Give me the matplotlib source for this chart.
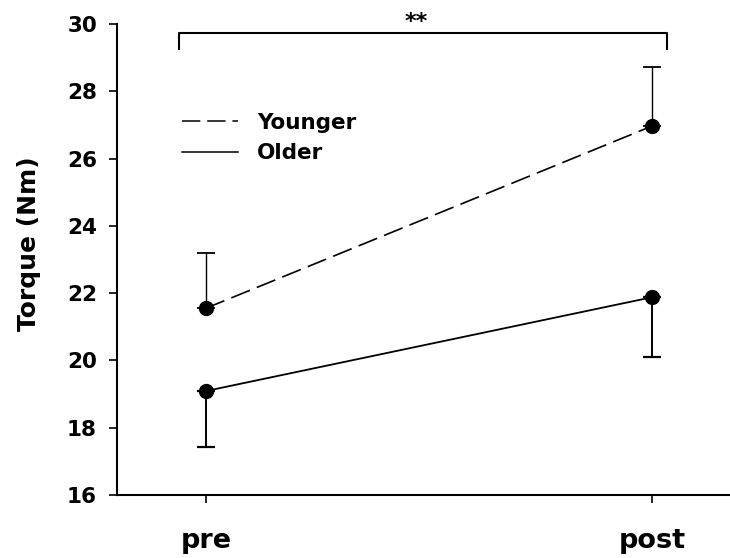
import matplotlib
matplotlib.use("Agg")
import matplotlib.pyplot as plt
from matplotlib.lines import Line2D

# Данные
phases = ["pre", "post"]
x_pos = [0, 1]
younger_mean = [21.55, 26.97]
younger_sd = [1.63, 1.76]
older_mean = [19.09, 21.88]
older_sd = [1.66, 1.79]
yticks = [16, 18, 20, 22, 24, 26, 28, 30]

plt.rcParams['font.family'] = ['DejaVu Sans']
plt.rcParams['font.weight'] = 'bold'

fig = plt.figure(figsize=(7.3, 5.58), dpi=100)
ax = fig.add_axes([0.1603, 0.1129, 0.8397, 0.8441])

dash = (0, (12, 4.5))

# Younger: SD только вверх, Older: SD только вниз
ax.errorbar(x_pos, younger_mean, yerr=[[0, 0], younger_sd], color='black',
            linestyle=dash, linewidth=1.2, marker='o', markersize=10,
            capsize=6.5, elinewidth=1.0, capthick=1.3, zorder=3)
ax.errorbar(x_pos, older_mean, yerr=[older_sd, [0, 0]], color='black',
            linestyle='-', linewidth=1.3, marker='o', markersize=10,
            capsize=6.5, elinewidth=1.4, capthick=1.6, zorder=3)

ax.set_xlim(-0.199, 1.174)
ax.set_ylim(16, 30)
ax.set_xticks(x_pos)
ax.set_xticklabels(phases, fontsize=19.5, fontweight='bold')
ax.set_yticks(yticks)
ax.set_yticklabels([str(t) for t in yticks], fontsize=15.5, fontweight='bold')
ax.tick_params(axis='y', length=6, width=1.2, pad=8.5)
ax.tick_params(axis='x', length=6, width=1.2, pad=17.5)
ax.set_ylabel("Torque (Nm)", fontsize=18, fontweight='bold')
ax.yaxis.set_label_coords(-0.124, 0.533)

ax.spines['top'].set_visible(False)
ax.spines['right'].set_visible(False)
ax.spines['left'].set_linewidth(1.5)
ax.spines['bottom'].set_linewidth(1.5)

# Скобка значимости
ax.plot([-0.06, -0.06, 1.032, 1.032], [29.27, 29.73, 29.73, 29.25],
        color='black', linewidth=1.5, clip_on=False)
ax.text(0.471, 29.76, "**", ha='center', va='bottom', fontsize=16,
        fontweight='bold')

handles = [Line2D([], [], color='black', linestyle=dash, linewidth=1.1),
           Line2D([], [], color='black', linestyle='-', linewidth=1.1)]
ax.legend(handles, ["Younger", "Older"], loc='upper left',
          bbox_to_anchor=(0.106, 0.8116), frameon=False,
          prop={'weight': 'bold', 'size': 15.5}, handlelength=2.6,
          handletextpad=0.88, borderpad=0, borderaxespad=0, labelspacing=0.48)

fig.savefig("out.png", dpi=100)
